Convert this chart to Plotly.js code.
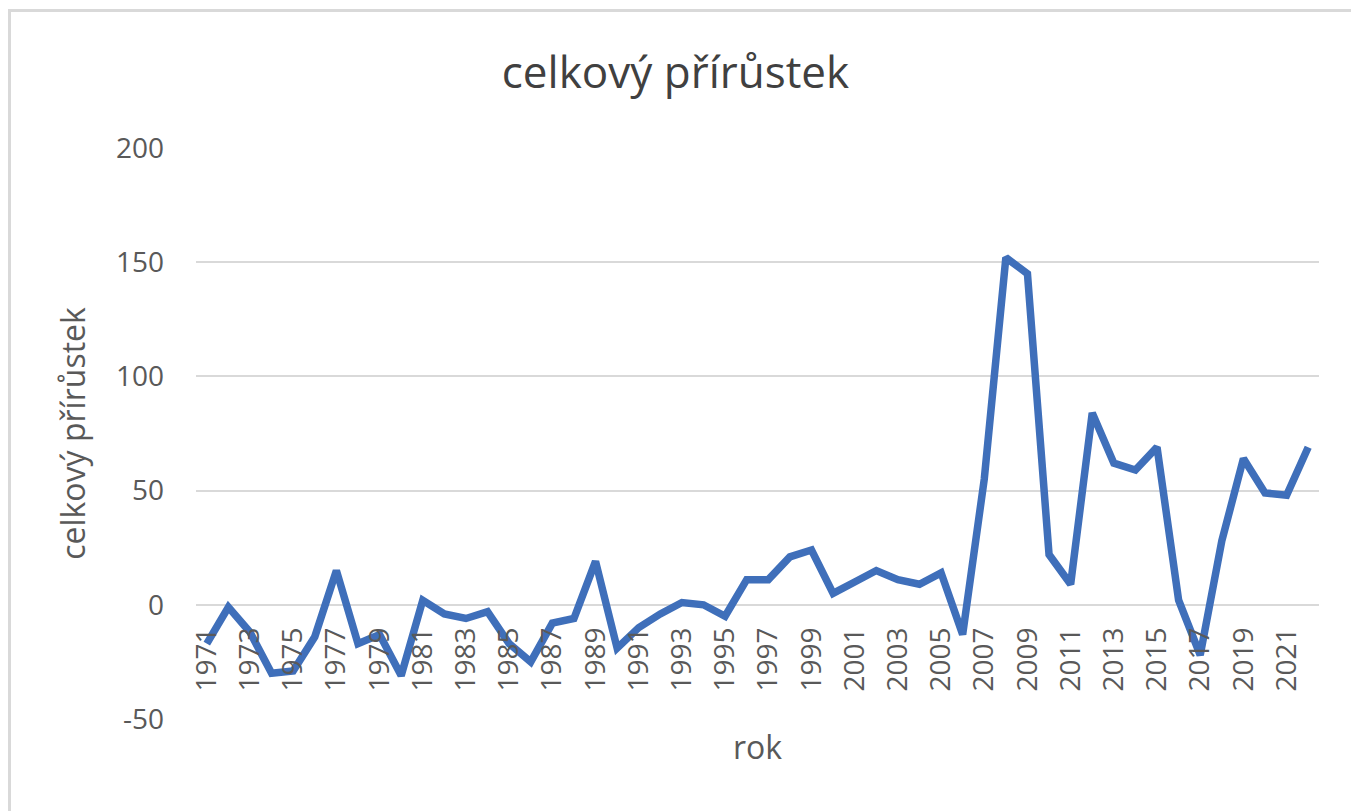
<!DOCTYPE html>
<html>
<head>
<meta charset="utf-8">
<script src="https://cdn.plot.ly/plotly-3.0.1.min.js"></script>
<style>
  html, body { margin: 0; padding: 0; background: #fff; }
  #wrap { position: relative; width: 1351px; height: 811px; }
  #chart { width: 1351px; height: 811px; }
  #frame { position: absolute; left: 8px; top: 9px; right: -10px; bottom: -10px;
           border-top: 3px solid #d9d9d9; border-left: 3px solid #d9d9d9; pointer-events: none; }
</style>
</head>
<body>
<div id="wrap">
  <div id="chart"></div>
  <div id="frame"></div>
</div>
<script>
const years = [1971,1972,1973,1974,1975,1976,1977,1978,1979,1980,
               1981,1982,1983,1984,1985,1986,1987,1988,1989,1990,
               1991,1992,1993,1994,1995,1996,1997,1998,1999,2000,
               2001,2002,2003,2004,2005,2006,2007,2008,2009,2010,
               2011,2012,2013,2014,2015,2016,2017,2018,2019,2020,
               2021,2022];
const prirustek = [-17,-1,-12,-30,-29,-14,15,-17,-13,-31,
                   2,-4,-6,-3,-17,-25,-8,-6,19,-19,
                   -10,-4,1,0,-5,11,11,21,24,5,
                   10,15,11,9,14,-13,55,152,145,22,
                   9,84,62,59,69,2,-22,28,64,49,
                   48,69];
const tickYears = [1971,1973,1975,1977,1979,1981,1983,1985,1987,1989,
                   1991,1993,1995,1997,1999,2001,2003,2005,2007,2009,
                   2011,2013,2015,2017,2019,2021];
const yTicks = [-50,0,50,100,150,200];

const font = '"Open Sans", "Noto Sans", sans-serif';

Plotly.newPlot('chart', [{
  x: years,
  y: prirustek,
  type: 'scatter',
  mode: 'lines',
  line: { color: '#3F6FBA', width: 7.5 },
  hoverinfo: 'x+y'
}], {
  width: 1351, height: 811,
  paper_bgcolor: '#ffffff', plot_bgcolor: '#ffffff',
  margin: { l: 196, r: 32, t: 148, b: 92 },
  showlegend: false,
  title: {
    text: 'celkový přírůstek',
    font: { family: font, size: 44, color: '#404040' },
    x: 0.5, xanchor: 'center', y: 0.91, yanchor: 'middle'
  },
  xaxis: {
    range: [1970.5, 2022.5],
    tickmode: 'array',
    tickvals: tickYears,
    ticktext: tickYears.map(String),
    tickangle: -90,
    tickfont: { family: font, size: 28, color: '#595959' },
    showgrid: false, zeroline: false, showline: false, ticks: '',
    ticklabelstandoff: 16,
    anchor: 'free', position: 0.2,
    title: { text: 'rok', font: { family: font, size: 32, color: '#595959' }, standoff: 46 }
  },
  yaxis: {
    range: [-50, 200],
    tickmode: 'array',
    tickvals: yTicks,
    ticktext: yTicks.map(String),
    tickfont: { family: font, size: 28, color: '#595959' },
    gridcolor: '#d9d9d9', gridwidth: 2,
    zeroline: false, showline: false, ticks: '',
    ticklabelstandoff: 31,
    title: { text: 'celkový přírůstek', font: { family: font, size: 32, color: '#595959' }, standoff: 20 }
  }
}, { displayModeBar: false, staticPlot: true });
</script>
</body>
</html>
